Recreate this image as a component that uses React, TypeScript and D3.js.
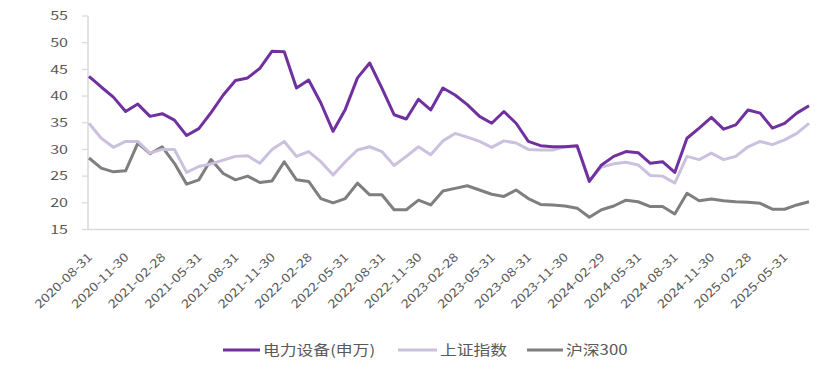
import React from "react";
import * as d3 from "d3";

// month-end dates of the sample
const dates = [
  "2020-08-31", "2020-09-30", "2020-10-31", "2020-11-30", "2020-12-31",
  "2021-01-31", "2021-02-28", "2021-03-31", "2021-04-30", "2021-05-31", "2021-06-30",
  "2021-07-31", "2021-08-31", "2021-09-30", "2021-10-31", "2021-11-30", "2021-12-31",
  "2022-01-31", "2022-02-28", "2022-03-31", "2022-04-30", "2022-05-31", "2022-06-30",
  "2022-07-31", "2022-08-31", "2022-09-30", "2022-10-31", "2022-11-30", "2022-12-31",
  "2023-01-31", "2023-02-28", "2023-03-31", "2023-04-30", "2023-05-31", "2023-06-30",
  "2023-07-31", "2023-08-31", "2023-09-30", "2023-10-31", "2023-11-30", "2023-12-31",
  "2024-01-31", "2024-02-29", "2024-03-31", "2024-04-30", "2024-05-31", "2024-06-30",
  "2024-07-31", "2024-08-31", "2024-09-30", "2024-10-31", "2024-11-30", "2024-12-31",
  "2025-01-31", "2025-02-28", "2025-03-31", "2025-04-30", "2025-05-31", "2025-06-30",
  "2025-07-31",
];

const powerEquip = [
  43.7, 41.7, 39.8, 37.1, 38.5, 36.2, 36.7, 35.5, 32.6, 33.9, 36.9, 40.2,
  42.9, 43.4, 45.2, 48.4, 48.3, 41.5, 43.0, 38.7, 33.4, 37.5, 43.4, 46.2,
  41.5, 36.5, 35.7, 39.4, 37.4, 41.5, 40.2, 38.4, 36.2, 34.9, 37.1, 34.9,
  31.5, 30.7, 30.5, 30.5, 30.7, 24.0, 27.1, 28.7, 29.6, 29.4, 27.4, 27.7,
  25.7, 32.1, 34.0, 36.0, 33.8, 34.6, 37.4, 36.8, 34.0, 34.9, 36.8, 38.2,
];

const shIndex = [
  34.9, 32.1, 30.4, 31.5, 31.5, 29.3, 30.0, 30.0, 25.7, 26.8, 27.3, 28.0,
  28.7, 28.8, 27.4, 30.0, 31.5, 28.7, 29.6, 27.7, 25.2, 27.7, 29.9, 30.5,
  29.6, 27.0, 28.7, 30.5, 29.0, 31.6, 33.0, 32.3, 31.5, 30.4, 31.6, 31.2,
  30.0, 29.9, 29.9, 30.5, 30.5, 24.2, 26.7, 27.3, 27.6, 27.1, 25.1, 25.0,
  23.7, 28.7, 28.1, 29.3, 28.1, 28.7, 30.5, 31.5, 30.9, 31.8, 33.0, 34.9,
];

const csi300 = [
  28.4, 26.5, 25.8, 26.0, 31.2, 29.2, 30.5, 27.4, 23.5, 24.3, 28.1, 25.5,
  24.3, 25.0, 23.8, 24.1, 27.7, 24.3, 24.0, 20.8, 20.0, 20.8, 23.7, 21.5,
  21.5, 18.7, 18.7, 20.5, 19.6, 22.2, 22.7, 23.2, 22.4, 21.6, 21.2, 22.4,
  20.8, 19.7, 19.6, 19.4, 19.0, 17.3, 18.7, 19.4, 20.5, 20.2, 19.3, 19.3,
  17.9, 21.8, 20.4, 20.7, 20.4, 20.2, 20.1, 19.9, 18.8, 18.8, 19.6, 20.2,
];

const seriesNames = ["电力设备(申万)", "上证指数", "沪深300"];
const yTicks = [15, 20, 25, 30, 35, 40, 45, 50, 55];

const W = 822;
const H = 369;
const textColor = "#595959";
const axisColor = "#d9d9d9";
const font = "'Noto Sans CJK SC', 'Noto Sans', sans-serif";

export default function App() {
  const x = d3.scalePoint<string>().domain(dates).range([89, 809]);
  const y = d3.scaleLinear().domain([15, 55]).range([229.5, 16]);

  const line = d3
    .line<number>()
    .x((_, i) => x(dates[i]) as number)
    .y(d => y(d));

  const series = [
    { name: seriesNames[0], values: powerEquip, color: "#7030a0" },
    { name: seriesNames[1], values: shIndex, color: "#cbc0de" },
    { name: seriesNames[2], values: csi300, color: "#7f7f7f" },
  ];

  const xTicks = dates.filter((_, i) => i % 3 === 0);

  // legend layout
  const legend = [
    { x1: 223, x2: 260, tx: 263 },
    { x1: 398, x2: 437, tx: 440 },
    { x1: 527, x2: 563, tx: 566 },
  ];

  return (
    <svg
      width={W}
      height={H}
      style={{ position: "absolute", left: 0, top: 0, background: "#fff" }}
      fontFamily={font}
    >
      {/* axes */}
      <line x1={88} x2={88} y1={16} y2={229.5} stroke={axisColor} strokeWidth={1.5} />
      <line x1={88} x2={809} y1={229.5} y2={229.5} stroke={axisColor} strokeWidth={1.5} />
      {yTicks.map(t => (
        <g key={t}>
          <line x1={82} x2={88} y1={y(t)} y2={y(t)} stroke={axisColor} strokeWidth={1.2} />
          <text
            transform={`translate(68,${y(t)}) scale(1.4,1)`}
            textAnchor="end"
            dy="0.36em"
            fontSize={11.5}
            fill={textColor}
          >
            {t}
          </text>
        </g>
      ))}
      {xTicks.map(d => (
        <text
          key={d}
          transform={`translate(${(x(d) as number) + 4},258) rotate(-44) scale(1.2,1)`}
          textAnchor="end"
          fontSize={12}
          fill={textColor}
        >
          {d}
        </text>
      ))}

      {/* lines: gray first, then light, then purple on top */}
      {[...series].reverse().map(s => (
        <path
          key={s.name}
          d={line(s.values) as string}
          fill="none"
          stroke={s.color}
          strokeWidth={3}
          strokeLinejoin="round"
        />
      ))}

      {/* legend */}
      {series.map((s, i) => (
        <g key={s.name}>
          <line x1={legend[i].x1} x2={legend[i].x2} y1={350} y2={350} stroke={s.color} strokeWidth={3} />
          <text
            transform={`translate(${legend[i].tx},350) scale(1.2,1)`}
            dy="0.35em"
            fontSize={14}
            fill={textColor}
          >
            {s.name}
          </text>
        </g>
      ))}
    </svg>
  );
}
